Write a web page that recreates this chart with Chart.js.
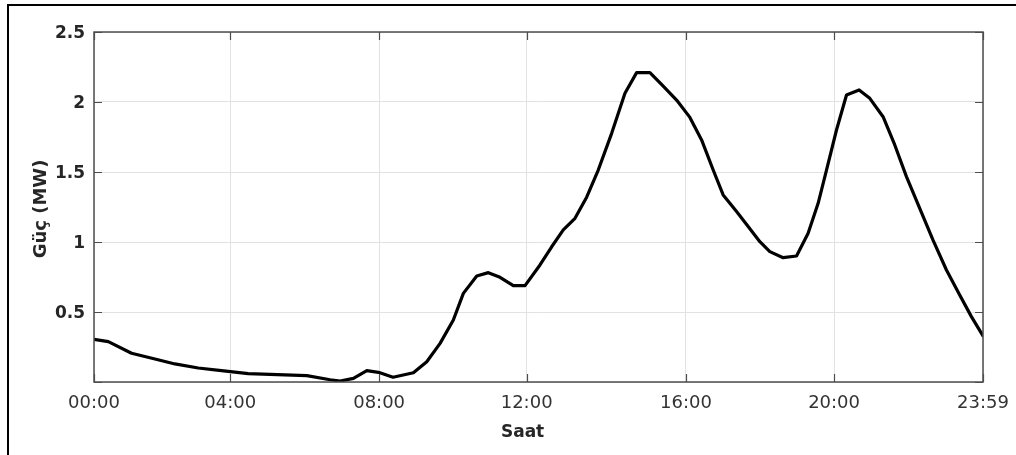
<!DOCTYPE html>
<html>
<head>
<meta charset="utf-8">
<script src="https://cdn.jsdelivr.net/npm/chart.js@4/dist/chart.umd.min.js"></script>
<style>
  html, body { margin: 0; padding: 0; background: #fff; }
  #wrap { position: relative; width: 1016px; height: 455px; }
  #frame { position: absolute; left: 7px; top: 4px; right: 0; bottom: -4px; border-top: 2px solid #000; border-left: 2px solid #000; pointer-events: none; }
  canvas { position: absolute; left: 0; top: 0; }
</style>
</head>
<body>
<div id="wrap">
  <canvas id="c" width="1016" height="455"></canvas>
  <div id="frame"></div>
</div>
<script>
// Axis position in hours (0 = 00:00, 24 = 23:59)
const xHours = [0, 0.386, 1.014, 1.646, 2.185, 2.814, 3.442, 4.163, 4.95, 5.746, 6.375, 6.645, 7.004, 7.365, 7.678, 8.074, 8.622, 8.984, 9.343, 9.701, 9.971, 10.333, 10.646, 10.961, 11.32, 11.636, 12.04, 12.356, 12.669, 12.985, 13.30, 13.613, 13.975, 14.334, 14.649, 15.008, 15.367, 15.728, 16.087, 16.403, 16.716, 16.985, 17.347, 17.66, 17.976, 18.245, 18.604, 18.966, 19.279, 19.549, 19.775, 20.045, 20.315, 20.655, 20.944, 21.302, 21.618, 21.933, 22.292, 22.651, 23.013, 23.371, 23.687, 24];
// Power (MW)
const power = [0.305, 0.288, 0.205, 0.164, 0.129, 0.100, 0.081, 0.060, 0.052, 0.045, 0.016, 0.007, 0.026, 0.081, 0.069, 0.034, 0.066, 0.145, 0.276, 0.443, 0.633, 0.757, 0.781, 0.748, 0.688, 0.688, 0.836, 0.966, 1.086, 1.169, 1.320, 1.514, 1.776, 2.062, 2.210, 2.210, 2.114, 2.014, 1.890, 1.729, 1.514, 1.336, 1.217, 1.110, 1.002, 0.931, 0.888, 0.900, 1.062, 1.276, 1.514, 1.800, 2.050, 2.086, 2.026, 1.895, 1.693, 1.467, 1.240, 1.014, 0.800, 0.621, 0.467, 0.330];
const xTickPos = [0, 3.677, 7.697, 11.68, 15.98, 19.98, 24];
const xTickLabels = ['00:00', '04:00', '08:00', '12:00', '16:00', '20:00', '23:59'];
const yTicks = [0, 0.5, 1, 1.5, 2, 2.5];
const xTitle = 'Saat';
const yTitle = 'Güç (MW)';

const points = xHours.map((h, i) => ({ x: h, y: power[i] }));

const boxPlugin = {
  id: 'box',
  afterDatasetsDraw(chart) {
    const { ctx, chartArea: a, scales } = chart;
    ctx.save();
    ctx.strokeStyle = '#4d4d4d';
    ctx.lineWidth = 1.2;
    const tl = 8;
    ctx.beginPath();
    xTickPos.forEach(v => {
      const px = Math.round(scales.x.getPixelForValue(v)) + 0.5;
      ctx.moveTo(px, a.bottom); ctx.lineTo(px, a.bottom - tl);
      ctx.moveTo(px, a.top); ctx.lineTo(px, a.top + tl);
    });
    yTicks.forEach(v => {
      const py = Math.round(scales.y.getPixelForValue(v)) + 0.5;
      ctx.moveTo(a.left, py); ctx.lineTo(a.left + tl, py);
      ctx.moveTo(a.right, py); ctx.lineTo(a.right - tl, py);
    });
    ctx.stroke();
    ctx.lineWidth = 1.5;
    ctx.strokeRect(a.left, a.top, a.right - a.left, a.bottom - a.top);
    // axis titles
    ctx.fillStyle = '#262626';
    ctx.font = 'bold 17px "DejaVu Sans"';
    ctx.textAlign = 'center';
    ctx.textBaseline = 'middle';
    ctx.fillText(xTitle, scales.x.getPixelForValue(11.57), 433);
    ctx.translate(41, (a.top + a.bottom) / 2 + 2);
    ctx.rotate(-Math.PI / 2);
    ctx.font = 'bold 18px "DejaVu Sans"';
    ctx.fillText(yTitle, 0, 0);
    ctx.restore();
  }
};

new Chart(document.getElementById('c'), {
  type: 'line',
  data: {
    datasets: [{
      data: points,
      borderColor: '#000',
      borderWidth: 3.2,
      pointRadius: 0,
      tension: 0,
      fill: false,
      borderJoinStyle: 'round',
      borderCapStyle: 'round'
    }]
  },
  options: {
    responsive: false,
    animation: false,
    devicePixelRatio: 1,
    layout: { padding: { top: 32, right: 33, left: 0, bottom: 0 } },
    plugins: { legend: { display: false }, tooltip: { enabled: false } },
    scales: {
      x: {
        type: 'linear',
        min: 0,
        max: 24,
        afterBuildTicks: s => { s.ticks = xTickPos.map(v => ({ value: v })); },
        afterFit: s => { s.height = 73; s.paddingLeft = 0; s.paddingRight = 0; },
        ticks: {
          autoSkip: false,
          maxRotation: 0,
          padding: 11,
          color: '#333',
          font: { family: 'DejaVu Sans', size: 18 },
          callback: (v, i) => xTickLabels[i]
        },
        grid: { color: '#e2e2e2', lineWidth: 1, drawTicks: false },
        border: { display: false }
      },
      y: {
        min: 0,
        max: 2.5,
        afterBuildTicks: s => { s.ticks = yTicks.map(v => ({ value: v })); },
        afterFit: s => { s.width = 94; s.paddingTop = 0; s.paddingBottom = 0; },
        ticks: {
          padding: 9,
          labelOffset: 2,
          color: '#262626',
          font: { family: 'DejaVu Sans', size: 17, weight: 'bold' },
          callback: v => (v === 0 ? '' : String(v))
        },
        grid: { color: '#e2e2e2', lineWidth: 1, drawTicks: false },
        border: { display: false }
      }
    }
  },
  plugins: [boxPlugin]
});
</script>
</body>
</html>
